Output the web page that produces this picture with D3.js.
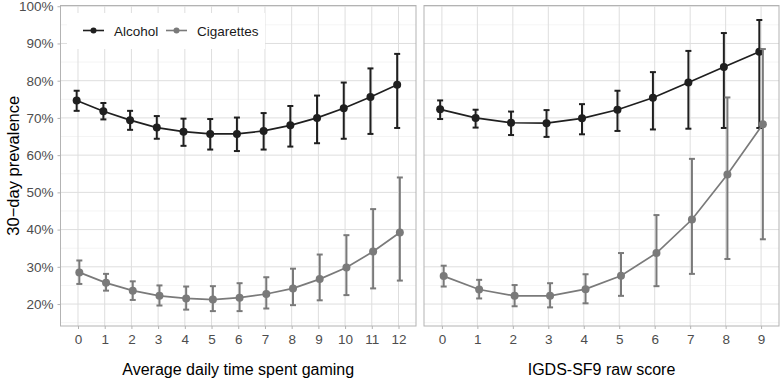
<!DOCTYPE html>
<html>
<head>
<meta charset="utf-8">
<script src="https://cdn.jsdelivr.net/npm/d3@7"></script>
<style>
  body { margin: 0; background: #fff; }
  svg { display: block; font-family: "Liberation Sans", Arial, sans-serif; }
</style>
</head>
<body>
<div id="chart"></div>
<script>
// values (percent)
const seriesNames = ['Alcohol', 'Cigarettes']
const seriesColors = ['#1f1f1f', '#7a7a7a']

const gamingHours = d3.range(0, 13)
const gamingAlcohol = [74.7, 71.8, 69.4, 67.4, 66.3, 65.7, 65.7, 66.5, 68.0, 70.0, 72.6, 75.6, 78.9]
const gamingAlcoholLo = [71.9, 69.6, 66.8, 64.4, 62.5, 61.5, 61.1, 61.5, 62.3, 63.2, 64.4, 65.7, 67.3]
const gamingAlcoholHi = [77.3, 74.0, 71.9, 70.5, 69.8, 69.7, 70.1, 71.3, 73.2, 76.0, 79.5, 83.3, 87.2]
const gamingCig = [28.5, 25.7, 23.6, 22.2, 21.5, 21.2, 21.7, 22.7, 24.2, 26.7, 29.8, 34.1, 39.2]
const gamingCigLo = [25.4, 23.6, 21.1, 19.6, 18.5, 18.1, 18.1, 18.8, 19.7, 21.0, 22.4, 24.2, 26.3]
const gamingCigHi = [31.7, 28.1, 26.1, 25.0, 24.7, 24.8, 25.6, 27.2, 29.5, 33.3, 38.5, 45.5, 54.0]

const igdsScore = d3.range(0, 10)
const igdsAlcohol = [72.3, 70.0, 68.7, 68.6, 69.9, 72.2, 75.4, 79.5, 83.7, 87.8]
const igdsAlcoholLo = [69.7, 67.4, 65.4, 64.9, 65.6, 66.5, 66.9, 67.1, 67.3, 67.3]
const igdsAlcoholHi = [74.7, 72.2, 71.7, 72.1, 73.7, 77.3, 82.3, 88.0, 92.8, 96.3]
const igdsCig = [27.5, 23.9, 22.2, 22.2, 24.0, 27.6, 33.7, 42.7, 54.8, 68.3]
const igdsCigLo = [24.7, 21.5, 19.4, 19.1, 20.2, 22.2, 24.8, 28.1, 32.1, 37.4]
const igdsCigHi = [30.3, 26.5, 25.1, 25.6, 28.0, 33.7, 43.9, 59.0, 75.5, 88.5]

const yTicks = [20, 30, 40, 50, 60, 70, 80, 90, 100]

const width = 780
const height = 378
const plotTop = 5.5
const plotBottom = 326

const svg = d3.select('#chart').append('svg')
  .attr('width', width)
  .attr('height', height)

const y = d3.scaleLinear().domain([14.1, 100.2]).range([plotBottom, plotTop])

function makeSeries(xs, vals, lo, hi) {
  return xs.map((x, i) => ({ x: x, v: vals[i], lo: lo[i], hi: hi[i] }))
}

const panels = [
  {
    left: 60.5, right: 416, xs: gamingHours, title: 'Average daily time spent gaming',
    series: [
      makeSeries(gamingHours, gamingAlcohol, gamingAlcoholLo, gamingAlcoholHi),
      makeSeries(gamingHours, gamingCig, gamingCigLo, gamingCigHi)
    ],
    legend: true
  },
  {
    left: 424, right: 779, xs: igdsScore, title: 'IGDS-SF9 raw score',
    series: [
      makeSeries(igdsScore, igdsAlcohol, igdsAlcoholLo, igdsAlcoholHi),
      makeSeries(igdsScore, igdsCig, igdsCigLo, igdsCigHi)
    ],
    legend: false
  }
]

const dodge = [-0.05, 0.05]

panels.forEach(function(p) {
  const lo = d3.min(p.xs) - 0.05
  const hi = d3.max(p.xs) + 0.05
  const pad = (hi - lo) * 0.05
  const x = d3.scaleLinear().domain([lo - pad, hi + pad]).range([p.left, p.right])
  const g = svg.append('g')

  // minor grid
  g.selectAll('line.ymin')
    .data(d3.range(15, 100, 10))
    .enter().append('line')
    .attr('x1', p.left).attr('x2', p.right)
    .attr('y1', d => y(d)).attr('y2', d => y(d))
    .attr('stroke', '#ececec').attr('stroke-width', 0.6)

  // major grid
  g.selectAll('line.ymaj')
    .data(yTicks)
    .enter().append('line')
    .attr('x1', p.left).attr('x2', p.right)
    .attr('y1', d => y(d)).attr('y2', d => y(d))
    .attr('stroke', '#dedede').attr('stroke-width', 1)
  g.selectAll('line.xmaj')
    .data(p.xs)
    .enter().append('line')
    .attr('x1', d => x(d)).attr('x2', d => x(d))
    .attr('y1', plotTop).attr('y2', plotBottom)
    .attr('stroke', '#dedede').attr('stroke-width', 1)

  // legend box
  if (p.legend) {
    const lg = g.append('g')
    lg.append('rect')
      .attr('x', 67).attr('y', 13).attr('width', 198).attr('height', 36)
      .attr('fill', '#fff')
    const keys = [83, 166]
    const texts = [114, 197]
    seriesNames.forEach(function(name, i) {
      lg.append('line')
        .attr('x1', keys[i]).attr('x2', keys[i] + 21)
        .attr('y1', 30.5).attr('y2', 30.5)
        .attr('stroke', seriesColors[i]).attr('stroke-width', 1.6)
      lg.append('circle')
        .attr('cx', keys[i] + 10.5).attr('cy', 30.5).attr('r', 3)
        .attr('fill', seriesColors[i])
      lg.append('text')
        .attr('x', texts[i]).attr('y', 35.5)
        .attr('font-size', 13.5).attr('fill', '#1a1a1a')
        .text(name)
    })
  }

  // series
  p.series.forEach(function(s, i) {
    const c = seriesColors[i]
    const dx = dodge[i]
    g.append('path')
      .datum(s)
      .attr('fill', 'none')
      .attr('stroke', c)
      .attr('stroke-width', 1.7)
      .attr('d', d3.line().x(d => x(d.x + dx)).y(d => y(d.v)))

    const eb = g.append('g').selectAll('g')
      .data(s).enter().append('g')
    eb.append('line')
      .attr('x1', d => x(d.x + dx)).attr('x2', d => x(d.x + dx))
      .attr('y1', d => y(d.lo)).attr('y2', d => y(d.hi))
      .attr('stroke', c).attr('stroke-width', 2)
    eb.append('line')
      .attr('x1', d => x(d.x + dx) - 3).attr('x2', d => x(d.x + dx) + 3)
      .attr('y1', d => y(d.lo)).attr('y2', d => y(d.lo))
      .attr('stroke', c).attr('stroke-width', 2)
    eb.append('line')
      .attr('x1', d => x(d.x + dx) - 3).attr('x2', d => x(d.x + dx) + 3)
      .attr('y1', d => y(d.hi)).attr('y2', d => y(d.hi))
      .attr('stroke', c).attr('stroke-width', 2)

    g.append('g').selectAll('circle')
      .data(s).enter().append('circle')
      .attr('cx', d => x(d.x + dx))
      .attr('cy', d => y(d.v))
      .attr('r', 4)
      .attr('fill', c)
  })

  // panel border
  g.append('rect')
    .attr('x', p.left).attr('y', plotTop)
    .attr('width', p.right - p.left).attr('height', plotBottom - plotTop)
    .attr('fill', 'none').attr('stroke', '#b3b3b3').attr('stroke-width', 1)

  // x axis
  const xa = g.append('g').attr('transform', 'translate(0,' + plotBottom + ')')
    .call(d3.axisBottom(x).tickValues(p.xs).tickSize(3).tickPadding(5).tickFormat(d3.format('d')))
  xa.select('.domain').remove()
  xa.selectAll('line').attr('stroke', '#b3b3b3')
  xa.selectAll('text').attr('font-size', 13.5).attr('fill', '#4d4d4d')
    .attr('font-family', '"Liberation Sans", Arial, sans-serif')

  svg.append('text')
    .attr('x', (p.left + p.right) / 2).attr('y', 375)
    .attr('text-anchor', 'middle')
    .attr('font-size', 16).attr('fill', '#000')
    .text(p.title)
})

// y axis on the left panel only
const ya = svg.append('g').attr('transform', 'translate(60.5,0)')
  .call(d3.axisLeft(y).tickValues(yTicks).tickSize(3).tickPadding(4).tickFormat(d => d + '%'))
ya.select('.domain').remove()
ya.selectAll('line').attr('stroke', '#b3b3b3')
ya.selectAll('text').attr('font-size', 13.5).attr('fill', '#4d4d4d')
  .attr('font-family', '"Liberation Sans", Arial, sans-serif')

svg.append('text')
  .attr('transform', 'translate(13,' + ((plotTop + plotBottom) / 2) + ') rotate(-90)')
  .attr('text-anchor', 'middle')
  .attr('dy', '0.35em')
  .attr('font-size', 16.5).attr('fill', '#000')
  .text('30\u2212day prevalence')
</script>
</body>
</html>
